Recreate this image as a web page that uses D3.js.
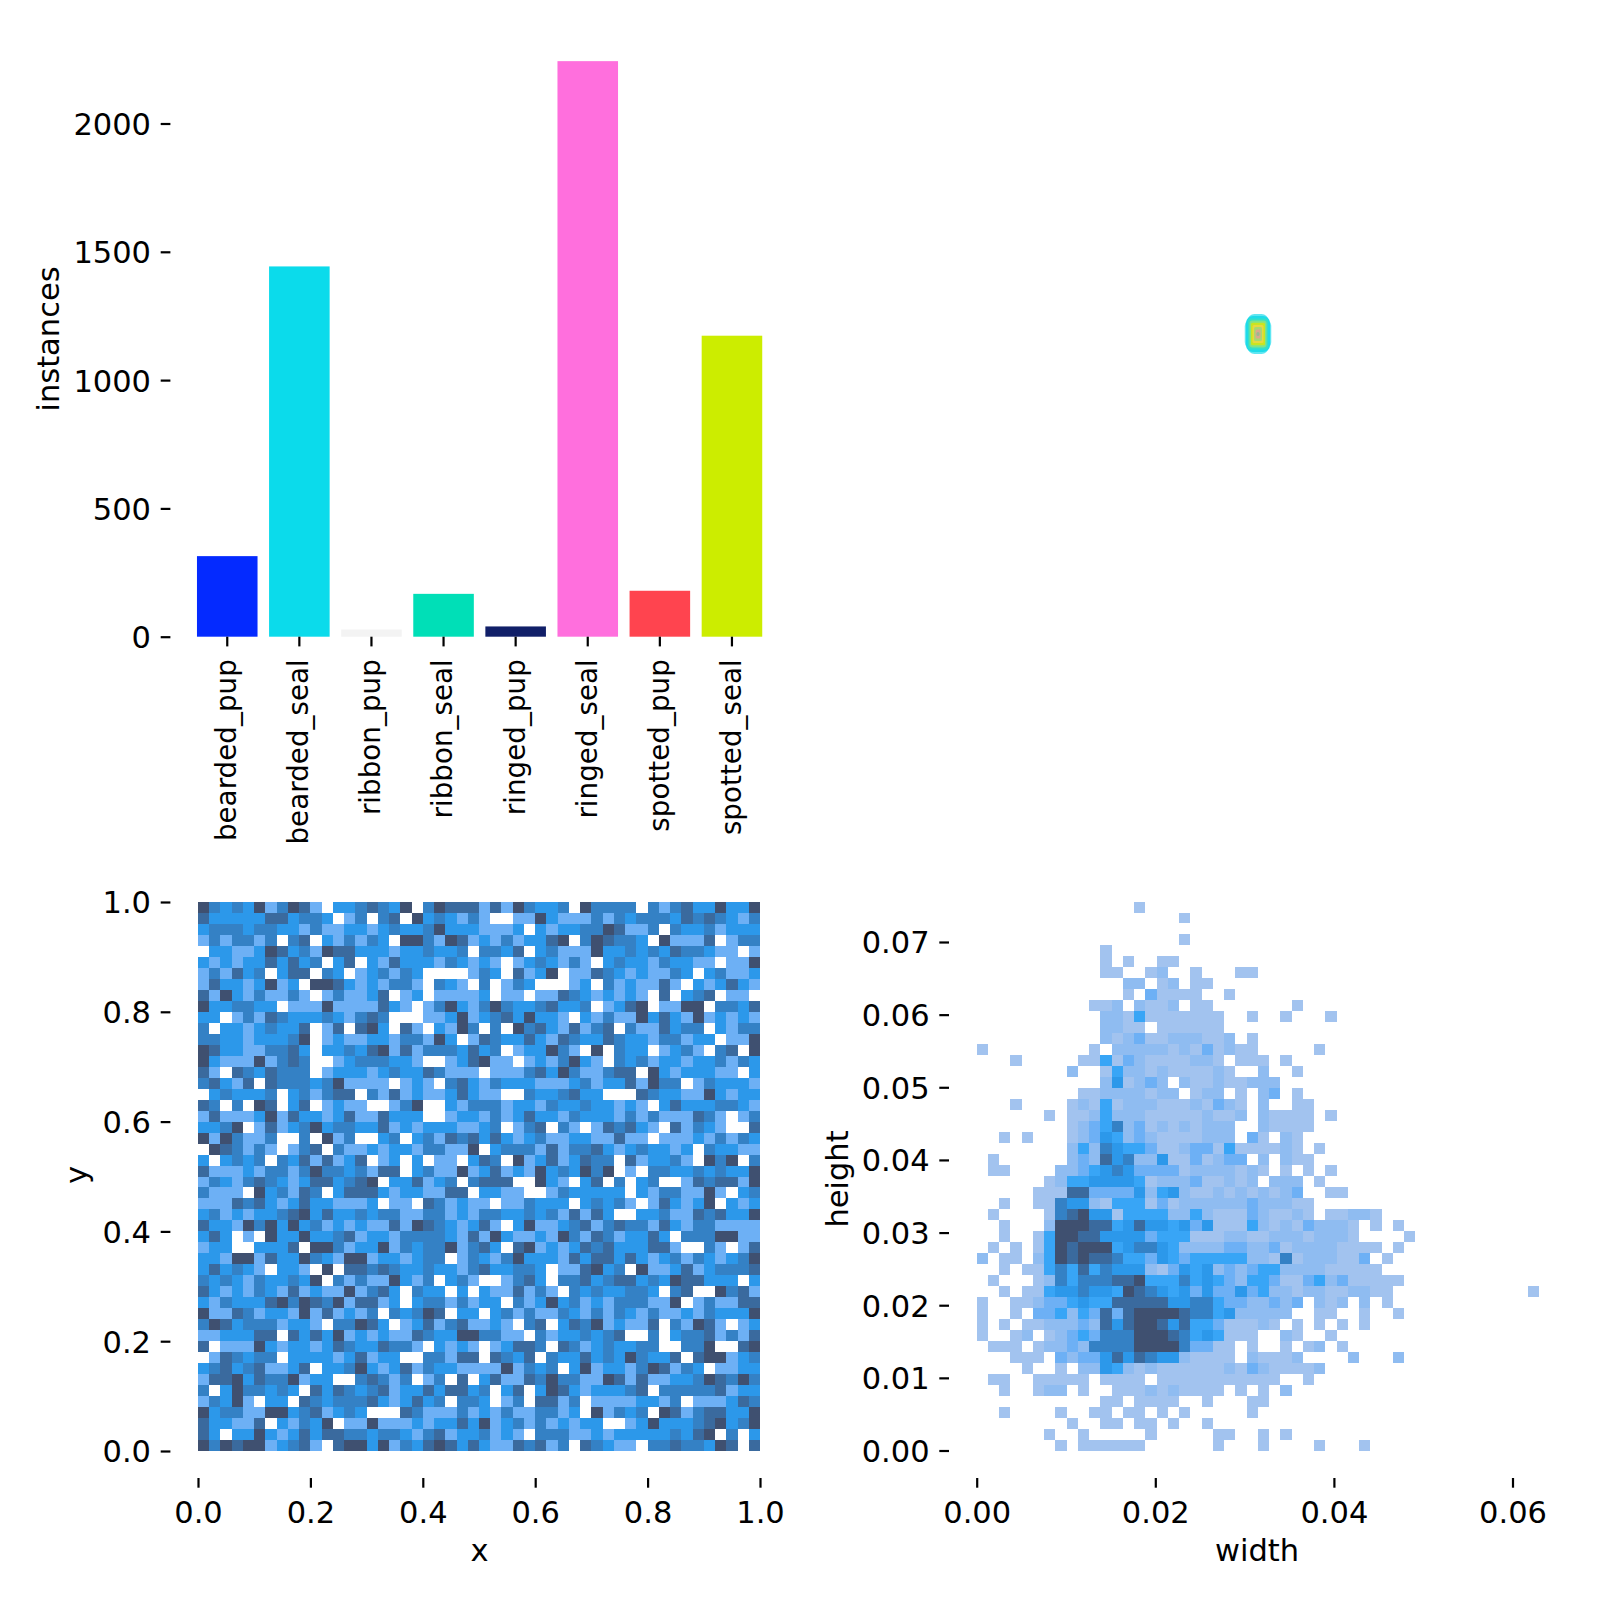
<!DOCTYPE html>
<html><head><meta charset="utf-8">
<script src="https://cdn.jsdelivr.net/npm/d3@7/dist/d3.min.js"></script>
<style>html,body{margin:0;background:#fff}svg{display:block}text{font-family:"DejaVu Sans";fill:#000}</style>
</head><body><svg id="c" width="1600" height="1600"></svg>
<script>
const classNames=["bearded_pup","bearded_seal","ribbon_pup","ribbon_seal","ringed_pup","ringed_seal","spotted_pup","spotted_seal"];
const instanceCounts=[314,1443,28,167,40,2243,179,1173];
const classColors=["#042aff","#0bdbeb","#f3f3f3","#00dfb7","#111f68","#ff6fdd","#ff444f","#cced00"];
const barTicks=[0,500,1000,1500,2000];
const xyTicks=[0,0.2,0.4,0.6,0.8,1];
const widthTicks=[0,0.02,0.04,0.06];
const heightTicks=[0,0.01,0.02,0.03,0.04,0.05,0.06,0.07];
const xyPalette=["#ffffff","#6db0f5","#2c98ea","#3481c5","#3a6a9e","#3f5070"];
const whPalette=["#ffffff","#a2c3ef","#8fbcf1","#6db0f5","#38a5f6","#2c98ea","#3481c5","#3a6a9e","#3f5070"];
const widthMax=0.06297, heightMax=0.07557;
// overlay of label boxes, sizes as fractions of the image, outermost first
const boxW=[0.0295,0.0372,0.0337,0.0281,0.0239,0.0197,0.0154,0.0112,0.007,0.0042];
const boxH=[0.0562,0.0421,0.0506,0.0435,0.0379,0.0316,0.0253,0.0197,0.0126,0.0056];
const boxColor=["#5fe6f2","#5fe6f2","#1fdbe8","#35dfc8","#7fe38a","#c9e520","#e9d840","#a8d870","#d9a890","#9ab890"];
// row 0 is the top row; digits index the palette
const xyRows=[
"53232 51354 10223 43250 35444 14153 22305 33330 31342 25225",
"42222 24423 32013 03405 23213 10011 52111 31323 33243 43213",
"23332 33221 31122 12322 35222 11120 21223 35411 30322 31222",
"13133 13034 02131 32055 31541 21312 24503 54332 05111 40133",
"02211 25423 15442 22122 32230 33240 23111 52232 32433 21101",
"21212 24242 30240 21422 21321 21012 32131 02322 13221 10115",
"13142 30244 03201 23132 00001 32041 25011 43212 11320 23112",
"14221 25120 55421 21331 03210 30132 00012 03121 14102 12421",
"41521 31131 01311 24012 01111 20110 11432 12121 04023 40110",
"52233 22011 15111 14210 13521 35322 34223 01245 01155 03324",
"22013 14322 23213 43000 11251 23425 22102 13115 24215 12121",
"30221 23224 01404 52041 02153 03053 42141 34031 14233 02133",
"33221 22235 01211 22133 15201 43224 21432 24322 13312 20115",
"54221 13342 02232 45141 33324 23012 25310 50322 01231 03405",
"52111 51343 00123 33221 00124 51101 21352 10323 12212 23132",
"41043 24333 01222 12322 43111 01113 42531 13440 52122 21102",
"34214 04333 23511 11012 10342 13222 11123 12241 53301 32221",
"02322 23023 13440 31412 11242 11003 22342 20004 32211 52122",
"43030 54024 01211 00135 00213 33122 13223 22121 02422 23321",
"14111 25142 21241 14222 00122 13124 22132 22131 31114 31013",
"22350 14123 52332 24121 22211 23013 40310 14342 10413 21004",
"51531 13003 05130 02302 31434 24212 31122 11411 01112 13132",
"05431 31013 40311 21221 33115 02333 14133 42123 22120 32211",
"20232 30324 14124 01202 01102 43051 24124 33041 22310 53503",
"41112 13313 53323 14402 31151 24121 52325 35010 33223 23225",
"13213 43212 44234 50224 12303 44400 52102 40302 30014 34415",
"31110 52314 30244 42122 11440 22110 01322 22202 13311 51023",
"11143 42124 22111 20110 43121 10113 22202 32310 14212 50212",
"23121 22345 24223 23311 33121 33223 23141 42002 23114 34225",
"42215 35252 31212 11415 43212 41025 11234 13433 14213 31111",
"24201 05225 22341 22133 33214 15211 21531 43122 42033 35511",
"12200 22240 55312 25132 33513 42045 12124 34222 44100 31014",
"22155 14225 32155 12212 33013 21352 22142 44242 12313 21235",
"24232 10221 05044 34322 32213 42233 20114 52305 11241 23334",
"32321 32232 50313 11521 30231 00134 20334 23442 32544 22202",
"42121 32141 21151 34203 22020 21141 31032 32233 20340 05341",
"21322 24535 43514 41202 33131 22031 25231 21333 11501 31144",
"51143 12215 14121 30323 54022 02313 11321 31321 31121 32225",
"35423 33122 10335 42012 41341 12103 40243 51211 40315 41012",
"11222 44042 42512 12114 32255 33110 31223 23400 30233 41314",
"40111 52122 12432 24331 02121 01244 30431 23223 30033 50045",
"01432 33022 22124 12200 33144 04324 03224 23253 22404 55123",
"23423 41124 02235 21241 32211 11513 23025 12213 54132 01122",
"14452 43351 22003 43130 13040 24114 35331 15414 11223 54353",
"30253 32320 42432 34122 42442 30240 25421 22234 03333 34122",
"13251 02204 32333 42124 23033 20130 44130 11112 21301 11243",
"52331 15523 41232 00043 11131 21311 33120 51323 05413 44225",
"42211 40213 25011 51112 12242 51231 31212 20012 52223 45235",
"42022 52124 24433 23321 34122 31210 33311 21222 22324 50302",
"53545 51234 10455 25132 45424 21143 41304 32110 33433 25404"];
const whRows=[
"0000000000 0000100000",
"0000000000 0000000010",
"",
"0000000000 0000000010",
"0000000000 0100000000",
"0000000000 0101001100",
"0000000000 0110012001 0001100000",
"0000000000 0002201201 1000000000",
"0000000000 0001031111 0010000000",
"0000000000 1120211201 1000000010",
"0000000000 0221411111 1100100100 0100000000",
"0000000000 0221101111 1100000000",
"0000000000 0212311222 1120100000",
"1000000000 1022222121 3121100000 1000000000",
"0001000001 1413211112 2101110100",
"0000000020 0142212111 1210020010",
"0000000000 0251232021 1211222000",
"0000000001 1222212201 2201023010",
"0001000012 1412221112 1321020011",
"0000001011 2422211111 2112021111 0100000000",
"0000000012 3462312121 2220021111",
"0010100012 3542321111 2220310210",
"0000000024 2654431123 3141111210 1000000000",
"0100000023 2756225113 1233020211",
"0110000223 4565333312 2221210101 0100000000",
"0000001244 5555412223 1121202220 1000000000",
"0000011177 3333524521 1212121230 0110000000",
"0010011655 2144413122 2222322211",
"0100001678 5514444224 2111321121 0112210000",
"0010002888 7745755453 5111421213 2221010100",
"0010014887 7555534441 1122112221 2221000010",
"0101014878 8845665422 2233223122 2211110100",
"2011024878 7764435434 4444221612 2211301000",
"0010114647 4655521354 5232344222 2111110000",
"0100012646 6677844464 5432443113 4231111100",
"0010114556 5548765453 5335342212 2112211000 0000000001",
"1001123345 4477777556 6433223230 2120201000",
"1001033424 3737888876 6452222200 1100100100",
"1010112223 2757887574 4311121010 1010100000",
"1001201234 3666888764 5411100210 0100000000",
"0111012232 6666888863 3110100101 2010000000",
"0001110323 3575765521 1110211120 0002000200",
"0000100102 2542121111 1121321111 2000000000",
"0110011111 0111101111 1111111001",
"0010012201 0011121211 1101010200",
"0000000000 0110111100 1000110000",
"0010000100 1101101010 0000100000",
"0000000010 0110110100 1000000000",
"0000001001 0000010000 0110010100",
"0000000101 1111100000 0100010000 1000100000"];

const svg=d3.select("#c");
const FS=30.5, TW=2.2, TL=9.7, PAD=9.7, PADB=13.7;
function styleAxis(g){
  g.select(".domain").remove();
  g.selectAll(".tick line").attr("stroke","#000").attr("stroke-width",TW);
  g.selectAll(".tick text").attr("font-size",FS).attr("font-family","DejaVu Sans").attr("fill","#000");
}
function leftText(g){ g.selectAll(".tick text").attr("dy","0.36em"); }
function axisLabel(t,x,y,rot){
  svg.append("text").attr("font-size",FS).attr("text-anchor","middle").attr("dominant-baseline","central")
    .attr("transform",`translate(${x},${y})${rot?" rotate(-90)":""}`).text(t);
}
// bars
const bx=d3.scaleBand().domain(classNames).range([191.2,768]).paddingInner(0.16).paddingOuter(0.08);
const by=d3.scaleLinear().domain([0,2000]).range([636.7,123.5]);
svg.append("g").selectAll("rect").data(classNames).join("rect")
  .attr("x",d=>bx(d)).attr("width",bx.bandwidth())
  .attr("y",(d,i)=>by(instanceCounts[i])).attr("height",(d,i)=>by(0)-by(instanceCounts[i]))
  .attr("fill",(d,i)=>classColors[i]);
svg.append("g").attr("transform","translate(170.4,0)")
  .call(d3.axisLeft(by).tickValues(barTicks).tickFormat(d3.format("d")).tickSize(TL).tickPadding(PAD)).call(styleAxis).call(leftText);
const bxAxis=svg.append("g").attr("transform","translate(0,636.7)")
  .call(d3.axisBottom(bx).tickSize(TL).tickPadding(PAD)).call(styleAxis);
bxAxis.selectAll(".tick text").attr("font-size",27.8).attr("transform","rotate(-90)")
  .attr("text-anchor","end").attr("x",-22.5).attr("y",0).attr("dy","0.32em");
axisLabel("instances",48,339,true);
// label boxes overlay
const ovX=d3.scaleLinear().domain([-0.5,0.5]).range([902,1614]);
const ovY=d3.scaleLinear().domain([-0.5,0.5]).range([-22,690]);
svg.append("g").selectAll("rect").data(boxW).join("rect")
  .attr("x",d=>ovX(-d/2)).attr("width",d=>ovX(d/2)-ovX(-d/2))
  .attr("y",(d,i)=>ovY(-boxH[i]/2)).attr("height",(d,i)=>ovY(boxH[i]/2)-ovY(-boxH[i]/2))
  .attr("rx",(d,i)=>i<3?7:i<5?3:1.5).attr("fill",(d,i)=>boxColor[i]);
// heat grids
function heat(rows,palette,xS,yS,xMax,yMax){
  const cols=50,cells=[];
  rows.forEach((s,r)=>{
    const line=s.replace(/ /g,"").padEnd(cols,"0");
    for(let c=0;c<cols;c++){const v=+line[c]; if(v>0) cells.push({r,c,v});}
  });
  const dx=xMax/cols, dy=yMax/rows.length;
  svg.append("g").attr("shape-rendering","crispEdges").selectAll("rect").data(cells).join("rect")
    .attr("x",d=>xS(d.c*dx)).attr("width",d=>xS((d.c+1)*dx)-xS(d.c*dx))
    .attr("y",d=>yS(yMax-d.r*dy)).attr("height",d=>yS(yMax-(d.r+1)*dy)-yS(yMax-d.r*dy))
    .attr("fill",d=>palette[d.v]);
}
const xyX=d3.scaleLinear().domain([0,1]).range([198,760]);
const xyY=d3.scaleLinear().domain([0,1]).range([1451,902]);
heat(xyRows,xyPalette,xyX,xyY,1,1);
svg.append("g").attr("transform","translate(170.4,0)")
  .call(d3.axisLeft(xyY).tickValues(xyTicks).tickFormat(d3.format(".1f")).tickSize(TL).tickPadding(PAD)).call(styleAxis).call(leftText);
svg.append("g").attr("transform","translate(0,1478)")
  .call(d3.axisBottom(xyX).tickValues(xyTicks).tickFormat(d3.format(".1f")).tickSize(TL).tickPadding(PADB)).call(styleAxis);
axisLabel("x",479.6,1550,false);
axisLabel("y",76.5,1175,true);

const whX=d3.scaleLinear().domain([0,0.06]).range([976.7,1512.5]);
const whY=d3.scaleLinear().domain([0,0.07]).range([1450.5,942]);
heat(whRows,whPalette,whX,whY,widthMax,heightMax);
svg.append("g").attr("transform","translate(949,0)")
  .call(d3.axisLeft(whY).tickValues(heightTicks).tickFormat(d3.format(".2f")).tickSize(TL).tickPadding(PAD)).call(styleAxis).call(leftText);
svg.append("g").attr("transform","translate(0,1478)")
  .call(d3.axisBottom(whX).tickValues(widthTicks).tickFormat(d3.format(".2f")).tickSize(TL).tickPadding(PADB)).call(styleAxis);
axisLabel("width",1257,1550,false);
axisLabel("height",837,1179,true);
</script></body></html>
